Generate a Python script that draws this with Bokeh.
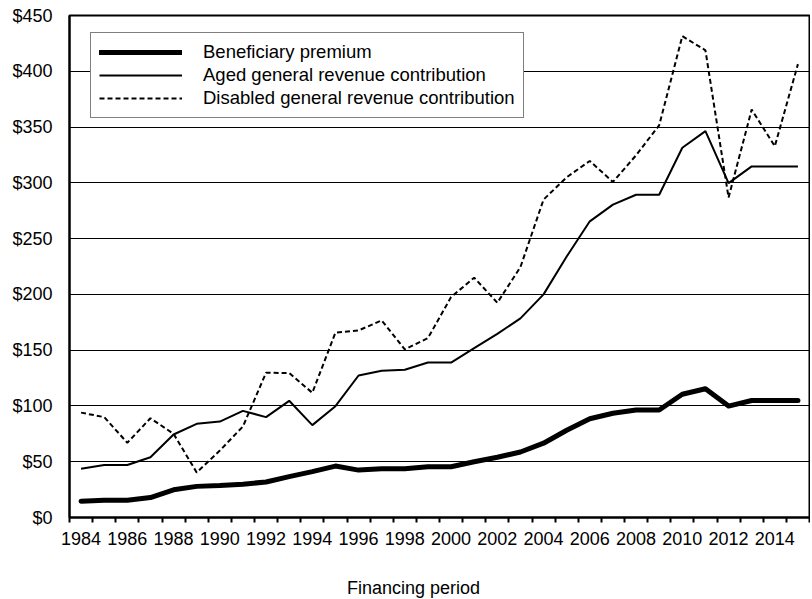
from bokeh.plotting import figure
from bokeh.layouts import column
from bokeh.models import Range1d, FixedTicker, PrintfTickFormatter, Legend, LegendItem, Label
from bokeh.embed import file_html
from bokeh.resources import INLINE

years = list(range(1984, 2016))
premium = [14.6, 15.5, 15.5, 17.9, 24.8, 27.9, 28.6, 29.9, 31.8, 36.6, 41.1, 46.1, 42.5, 43.8, 43.8, 45.5,
           45.5, 50.0, 54.0, 58.7, 66.6, 78.2, 88.5, 93.5, 96.4, 96.4, 110.5, 115.4, 99.9, 104.9, 104.9, 104.9]
aged = [43.6, 47.0, 47.0, 54.0, 74.4, 84.0, 86.0, 95.6, 90.0, 104.6, 82.8, 99.8, 127.3, 131.5, 132.4, 139.0,
        138.9, 151.8, 164.6, 178.5, 200.0, 234.0, 265.5, 280.5, 289.3, 289.3, 331.5, 346.3, 299.7, 314.7, 314.7, 314.7]
disabled = [94.0, 90.0, 67.0, 89.0, 75.0, 40.4, 60.0, 81.6, 129.8, 129.5, 111.8, 165.7, 167.7, 176.7, 150.7, 160.8,
            197.6, 215.0, 192.5, 224.5, 285.0, 305.0, 319.6, 300.8, 324.7, 351.6, 431.5, 418.8, 286.8, 365.7, 332.8, 406.4]
label_years = list(range(1984, 2016, 2))
boundaries = [y - 0.5 for y in years] + [years[-1] + 0.5]
y_ticks = list(range(0, 451, 50))

FONT = "Liberation Sans"

p = figure(width=810, height=560, output_backend="svg", toolbar_location=None,
           x_range=Range1d(years[0] - 0.5, years[-1] + 0.5), y_range=Range1d(0, 450),
           min_border_left=69, min_border_right=1, min_border_top=15, min_border_bottom=43)
p.background_fill_color = "white"
p.border_fill_color = "white"
p.outline_line_color = "black"
p.outline_line_width = 2

r_dis = p.line(years, disabled, line_color="black", line_width=2, line_dash="5 3")
r_aged = p.line(years, aged, line_color="black", line_width=2)
r_prem = p.line(years, premium, line_color="black", line_width=5, line_cap="round", line_join="round")

# x axis
xa = p.xaxis[0]
xa.ticker = FixedTicker(ticks=label_years, minor_ticks=boundaries)
xa.major_tick_line_color = None
xa.major_tick_out = 5
xa.major_tick_in = 0
xa.minor_tick_line_color = "black"
xa.minor_tick_line_width = 2
xa.minor_tick_out = 5
xa.minor_tick_in = 0
xa.axis_line_color = "black"
xa.axis_line_width = 2
xa.major_label_text_font = FONT
xa.major_label_text_font_size = "18px"
xa.major_label_text_color = "black"
xa.major_label_standoff = 9

ya = p.yaxis[0]
ya.ticker = FixedTicker(ticks=y_ticks)
ya.formatter = PrintfTickFormatter(format="$%d")
ya.major_tick_line_color = None
ya.major_tick_out = 0
ya.major_tick_in = 0
ya.minor_tick_line_color = None
ya.axis_line_color = "black"
ya.axis_line_width = 2
ya.major_label_text_font = FONT
ya.major_label_text_font_size = "18px"
ya.major_label_text_color = "black"
ya.major_label_standoff = 17

p.xgrid.grid_line_color = None
p.ygrid.ticker = FixedTicker(ticks=y_ticks)
p.ygrid.grid_line_color = "black"
p.ygrid.grid_line_width = 1

legend = Legend(items=[
    LegendItem(label="Beneficiary premium", renderers=[r_prem]),
    LegendItem(label="Aged general revenue contribution", renderers=[r_aged]),
    LegendItem(label="Disabled general revenue contribution", renderers=[r_dis]),
], location=(21, 399))
legend.label_text_font = FONT
legend.label_text_font_size = "18.5px"
legend.label_text_color = "black"
legend.glyph_width = 83
legend.glyph_height = 20
legend.label_height = 20
legend.label_standoff = 21
legend.spacing = 1
legend.padding = 8
legend.margin = 0
legend.border_line_color = "black"
legend.border_line_width = 1
legend.background_fill_color = "white"
legend.background_fill_alpha = 1.0
p.add_layout(legend, "center")

# strip below the chart carrying the x-axis title, centred under the whole chart
p2 = figure(width=810, height=39, output_backend="svg", toolbar_location=None,
            x_axis_location=None, y_axis_location=None,
            x_range=Range1d(0, 810), y_range=Range1d(0, 39),
            min_border_left=0, min_border_right=0, min_border_top=0, min_border_bottom=0)
p2.outline_line_color = None
p2.background_fill_color = "white"
p2.border_fill_color = "white"
p2.xgrid.visible = False
p2.ygrid.visible = False
p2.add_layout(Label(x=344, y=12, x_units="screen", y_units="screen", text="Financing period",
                    text_font=FONT, text_font_size="18px", text_color="black",
                    text_align="center", text_baseline="middle"))

layout = column(p, p2, spacing=0)
open("out.html", "w").write(file_html(layout, INLINE))
